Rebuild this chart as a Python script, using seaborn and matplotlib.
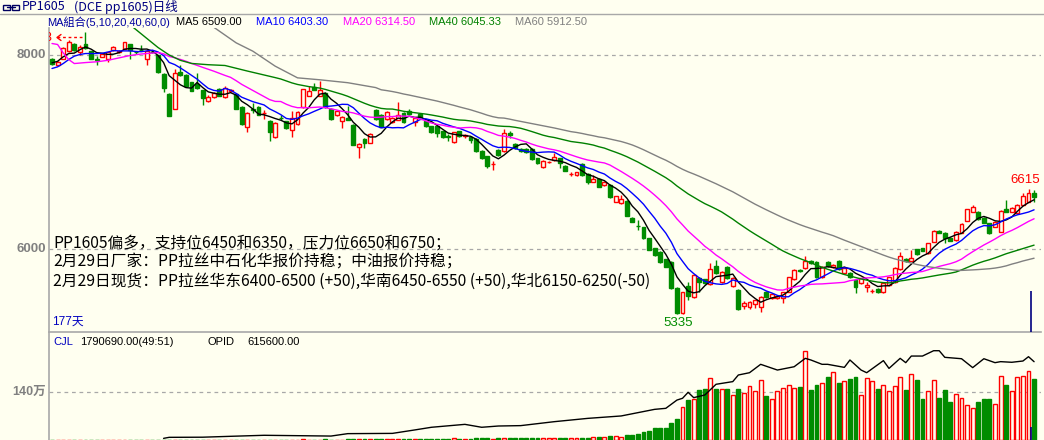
import numpy as np
import pandas as pd
import matplotlib
matplotlib.use("Agg")
import matplotlib.pyplot as plt
from matplotlib.lines import Line2D
from matplotlib.patches import Rectangle
import seaborn as sns

sns.set_theme(style="white")
plt.rcParams['font.family'] = ['Noto Sans CJK SC', 'DejaVu Sans']

# ---------------- data ----------------
opens = [
    7956, 7894, 7956, 8034, 8110, 8028, 8110, 8031, 7955, 7976,
    7956, 8044, 8030, 8059, 8103, 8028, 8050, 7956, 8028, 7990,
    7801, 7598, 7440, 7818, 7794, 7714, 7693, 7632, 7526, 7560,
    7646, 7560, 7620, 7595, 7461, 7251, 7440, 7457, 7395, 7320,
    7152, 7350, 7313, 7220, 7289, 7461, 7577, 7667, 7577, 7605,
    7440, 7374, 7313, 7347, 7278, 7044, 7131, 7090, 7433, 7381,
    7337, 7306, 7330, 7399, 7420, 7302, 7385, 7313, 7261, 7261,
    7210, 7165, 7096, 7210, 7165, 7152, 7134, 7010, 6952, 6870,
    7021, 7003, 7190, 7082, 7028, 7028, 7028, 6935, 6842, 6895,
    6911, 6935, 6856, 6770, 6763, 6873, 6773, 6694, 6718, 6660,
    6660, 6488, 6471, 6495, 6323, 6240, 6224, 6110, 6007, 5972,
    5894, 5870, 5600, 5340, 5620, 5509, 5700, 5688, 5639, 5825,
    5663, 5818, 5619, 5577, 5412, 5405, 5433, 5405, 5560, 5498,
    5492, 5498, 5560, 5688, 5784, 5801, 5880, 5869, 5715, 5869,
    5811, 5876, 5756, 5756, 5681, 5647, 5605, 5568, 5584, 5560,
    5629, 5663, 5791, 5894, 5880, 5997, 6007, 5956, 6076, 6189,
    6168, 6110, 6093, 6168, 6292, 6385, 6385, 6316, 6265, 6230,
    6179, 6409, 6385, 6368, 6454, 6488, 6580]
closes = [
    7907, 7925, 8069, 8127, 8044, 8080, 8069, 7956, 7948, 8007,
    8024, 8080, 8034, 8127, 8044, 8024, 8044, 8041, 8024, 7818,
    7657, 7371, 7811, 7787, 7673, 7629, 7660, 7553, 7564, 7605,
    7577, 7657, 7636, 7440, 7286, 7399, 7433, 7381, 7399, 7199,
    7296, 7347, 7244, 7347, 7409, 7646, 7629, 7639, 7639, 7461,
    7337, 7416, 7358, 7330, 7072, 7079, 7090, 7186, 7337, 7255,
    7409, 7347, 7381, 7302, 7390, 7347, 7358, 7261, 7199, 7193,
    7152, 7155, 7199, 7158, 7168, 7117, 7003, 6935, 6856, 6873,
    6969, 7193, 7175, 7038, 7003, 6997, 6925, 6883, 6907, 6897,
    6945, 6883, 6807, 6773, 6787, 6763, 6694, 6722, 6642, 6694,
    6533, 6540, 6512, 6340, 6281, 6237, 6110, 5990, 5938, 5869,
    5818, 5600, 5340, 5554, 5520, 5732, 5660, 5647, 5791, 5750,
    5766, 5698, 5705, 5382, 5440, 5457, 5474, 5509, 5509, 5536,
    5519, 5554, 5708, 5784, 5770, 5876, 5853, 5715, 5818, 5828,
    5835, 5791, 5801, 5715, 5612, 5698, 5629, 5570, 5560, 5647,
    5708, 5801, 5928, 5880, 5904, 5949, 5983, 6059, 6186, 6168,
    6110, 6086, 6179, 6258, 6409, 6430, 6306, 6271, 6162, 6282,
    6395, 6385, 6419, 6454, 6546, 6580, 6533]
highs = [
    7965, 7935, 8075, 8147, 8115, 8095, 8230, 8040, 7983, 8015,
    8030, 8090, 8050, 8130, 8110, 8040, 8093, 8045, 8040, 8000,
    7810, 7605, 7853, 7897, 7800, 7720, 7811, 7640, 7580, 7615,
    7655, 7680, 7645, 7600, 7470, 7405, 7502, 7470, 7433, 7330,
    7305, 7380, 7320, 7420, 7415, 7650, 7673, 7708, 7725, 7615,
    7450, 7425, 7365, 7467, 7285, 7085, 7140, 7195, 7440, 7390,
    7415, 7355, 7509, 7405, 7440, 7355, 7390, 7320, 7265, 7265,
    7215, 7180, 7205, 7215, 7180, 7160, 7140, 7015, 6955, 6900,
    7030, 7234, 7210, 7090, 7040, 7035, 7035, 6940, 6915, 6910,
    6986, 6940, 6860, 6795, 6795, 6880, 6780, 6763, 6725, 6700,
    6665, 6545, 6560, 6500, 6330, 6299, 6230, 6115, 6015, 5980,
    5900, 5880, 5610, 5560, 5660, 5740, 5710, 5695, 5853, 5887,
    5775, 5825, 5712, 5585, 5470, 5465, 5480, 5515, 5568, 5545,
    5525, 5560, 5715, 5790, 5795, 5928, 5890, 5875, 5825, 5880,
    5845, 5885, 5810, 5765, 5690, 5705, 5660, 5590, 5600, 5650,
    5715, 5810, 5972, 5905, 5990, 6005, 6015, 6065, 6195, 6195,
    6175, 6120, 6185, 6265, 6415, 6454, 6395, 6325, 6270, 6290,
    6400, 6505, 6430, 6460, 6580, 6615, 6608]
lows = [
    7895, 7885, 7950, 8025, 8035, 8000, 8060, 7950, 7887, 7970,
    7921, 8040, 8020, 8055, 7956, 8010, 8035, 7897, 8015, 7810,
    7612, 7365, 7435, 7780, 7665, 7620, 7650, 7484, 7510, 7555,
    7570, 7555, 7615, 7435, 7280, 7200, 7399, 7375, 7337, 7113,
    7140, 7330, 7235, 7152, 7280, 7455, 7570, 7630, 7570, 7455,
    7330, 7370, 7244, 7325, 7065, 6935, 7038, 7085, 7330, 7250,
    7330, 7300, 7325, 7295, 7385, 7260, 7350, 7255, 7190, 7150,
    7145, 7110, 7090, 7150, 7140, 7085, 6995, 6930, 6830, 6814,
    6960, 6995, 7145, 7030, 6995, 6990, 6920, 6875, 6835, 6880,
    6905, 6832, 6800, 6750, 6755, 6755, 6667, 6688, 6635, 6650,
    6525, 6480, 6465, 6335, 6275, 6196, 6100, 5985, 5930, 5860,
    5810, 5590, 5335, 5335, 5480, 5500, 5560, 5640, 5630, 5745,
    5650, 5690, 5610, 5375, 5380, 5380, 5395, 5354, 5500, 5490,
    5485, 5440, 5555, 5680, 5760, 5795, 5845, 5705, 5705, 5820,
    5800, 5785, 5750, 5705, 5543, 5640, 5560, 5545, 5550, 5550,
    5620, 5655, 5785, 5870, 5875, 5940, 5975, 5950, 6070, 6160,
    6060, 6080, 6085, 6160, 6285, 6380, 6300, 6265, 6150, 6225,
    6170, 6380, 6380, 6360, 6448, 6480, 6488]
# volume in 万手
volumes = [
    0.4, 0.3, 0.5, 0.4, 0.6, 0.3, 0.5, 0.4, 0.4, 0.3,
    0.5, 0.4, 0.3, 0.6, 0.5, 0.4, 0.4, 0.5, 0.3, 0.8,
    1.0, 1.2, 1.1, 0.8, 0.9, 0.9, 0.7, 1.0, 0.8, 0.7,
    0.8, 0.9, 0.7, 1.1, 1.3, 1.2, 0.9, 0.8, 0.8, 1.2,
    1.1, 0.9, 1.0, 1.1, 1.2, 1.6, 1.3, 1.2, 1.3, 1.5,
    1.4, 1.2, 1.3, 3.2, 3.8, 3.5, 3.0, 3.3, 3.9, 3.6,
    3.4, 3.2, 3.6, 3.5, 3.3, 3.8, 3.1, 3.6, 3.7, 3.9,
    3.6, 4.2, 4.6, 3.9, 3.7, 4.1, 4.8, 4.6, 5.2, 4.0,
    4.4, 5.5, 4.6, 4.8, 5.0, 4.5, 5.1, 5.3, 4.8, 4.6,
    5.0, 5.4, 5.8, 5.2, 5.5, 6.3, 6.8, 8.7, 8.7, 9.7,
    11.7, 11.7, 8.7, 13.6, 15.6, 17.5, 24.3, 27.2, 35.0, 35.0,
    35.0, 48.6, 61.3, 95.2, 116.7, 118.6, 145.8, 148.8, 179.9, 148.8,
    147.8, 148.8, 130.3, 148.8, 136.1, 156.5, 141.9, 174.0, 128.3, 118.6,
    141.9, 150.7, 159.5, 151.7, 154.6, 259.6, 145.8, 160.4, 166.3, 183.8,
    197.0, 167.3, 171.1, 178.8, 183.8, 131.3, 179.9, 171.1, 148.8, 160.4,
    142.9, 157.5, 183.8, 145.8, 192.5, 175.0, 119.6, 142.9, 175.0, 122.5,
    145.8, 110.8, 134.2, 122.5, 101.1, 93.3, 111.8, 119.6, 119.6, 105.0,
    186.7, 160.4, 142.9, 183.8, 186.7, 201.0, 179.069]
# open interest (bar index, value)
oi_idx = [20, 21, 27, 32, 38, 50, 53, 61, 65, 68, 74, 77, 80, 84, 90, 96, 102,
          108, 110, 112, 113, 114, 115, 117, 119, 122, 123, 125, 127, 130, 133,
          135, 136, 138, 139, 142, 143, 145, 146, 149, 150, 152, 153, 154, 156,
          158, 159, 160, 163, 165, 167, 169, 170, 172, 174, 175, 176]
oi_val = [13000, 21000, 22000, 29000, 37000, 31000, 50000, 52000, 79000, 100000,
          123000, 100000, 110000, 113000, 144000, 170000, 189000, 241000, 249000,
          314000, 328000, 375000, 333000, 354000, 438000, 459000, 511000, 529000,
          595000, 550000, 576000, 642000, 629000, 595000, 595000, 571000, 629000,
          550000, 529000, 624000, 563000, 642000, 608000, 660000, 660000, 702000,
          702000, 650000, 639000, 569000, 639000, 608000, 616000, 611000, 621000,
          655000, 615600]
# moving-average values before the window fills
ma5_head_idx = [0, 1, 2, 3]
ma5_head_val = [7914, 7930, 7976, 8010]
ma10_head_idx = [0, 1, 2, 3, 4, 5, 6, 7, 8]
ma10_head_val = [7856, 7873, 7907, 7948, 7983, 8000, 8010, 8010, 8010]
ma20_head_idx = [0, 1, 2, 3, 4, 6, 8, 10, 12, 14, 16, 18]
ma20_head_val = [8113, 8103, 8017, 7948, 7907, 7917, 7925, 7940, 7965, 7990, 8005, 8015]
ma40_head_idx = [14, 15, 17, 19, 21, 23, 25, 28, 31, 35, 38]
ma40_head_val = [8305, 8258, 8165, 8072, 7995, 7940, 7908, 7895, 7887, 7830, 7790]
ma60_head_idx = [28, 29, 30, 33, 36, 40, 44, 48, 53, 58]
ma60_head_val = [8330, 8280, 8240, 8120, 8034, 7880, 7760, 7740, 7710, 7660]

ma_periods = [5, 10, 20, 40, 60]
ma_colors = ['#000000', '#0000FF', '#FF00FF', '#008000', '#808080']
ma_labels = ['MA5 6509.00', 'MA10 6403.30', 'MA20 6314.50', 'MA40 6045.33', 'MA60 5912.50']
ma_label_x = [176, 256, 343, 429, 515]

notes = ["PP1605偏多，支持位6450和6350，压力位6650和6750；",
         "2月29日厂家：PP拉丝中石化华报价持稳；中油报价持稳；",
         "2月29日现货：PP拉丝华东6400-6500 (+50),华南6450-6550 (+50),华北6150-6250(-50)"]

for arr in (opens, closes, highs, lows, volumes):
    assert len(arr) == 177, len(arr)

# ---------------- layout ----------------
W, H = 1044, 440
BG = '#FFFFF0'
RED = '#FF0000'
GRN = '#008C00'
GRID = '#A8A8A8'

fig = plt.figure(figsize=(W / 100, H / 100), dpi=100)
fig.patch.set_facecolor(BG)

def fr(x0, y0, x1, y1):
    return [x0 / W, 1 - y1 / H, (x1 - x0) / W, (y1 - y0) / H]

n = len(closes)
xs = np.arange(n)
step = 5.58
x_left = (49 - 52) / step
x_right = (1041 - 52) / step

def px2price(py):
    return 8000 - (py - 54.5) * (2000 / 194.5)

ax = fig.add_axes(fr(49, 28, 1041, 332))
axv = fig.add_axes(fr(49, 333, 1041, 440))
for a in (ax, axv):
    a.set_facecolor(BG)
    a.set_xlim(x_left, x_right)
    a.set_xticks([])
    a.set_yticks([])
    for s in a.spines.values():
        s.set_visible(False)
    a.spines['left'].set_visible(True)
    a.spines['left'].set_color(GRID)
    a.spines['left'].set_linewidth(1.2)
ax.spines['bottom'].set_visible(True)
ax.spines['bottom'].set_color(GRID)
ax.spines['bottom'].set_linewidth(1.2)

ax.set_ylim(px2price(332), px2price(28))
vol_per_px = 140 / 48.0
axv.set_ylim(0, 107 * vol_per_px)

# grid lines
ax.axhline(8000, color=GRID, lw=0.9, ls=(0, (3, 3)), zorder=1)
ax.axhline(6000, color=GRID, lw=0.9, ls=(0, (3, 3)), zorder=1)
axv.axhline(140, color=GRID, lw=0.9, ls=(0, (3, 3)), zorder=1)

# ---------------- candles ----------------
df = pd.DataFrame({'i': xs, 'o': opens, 'h': highs, 'l': lows, 'c': closes, 'v': volumes})
up = df['c'] >= df['o']
cols = np.where(up, RED, GRN)
ax.vlines(df['i'], df['l'], df['h'], colors=cols, lw=1.0, zorder=3)
bw = 0.70
bottoms = np.minimum(df['o'], df['c'])
heights = np.maximum(np.abs(df['c'] - df['o']), 0.5)
face = np.where(up, BG, GRN)
ax.bar(df['i'], heights, bottom=bottoms, width=bw, color=face, edgecolor=cols,
       linewidth=1.0, zorder=4)

# ---------------- moving averages ----------------
cs = pd.Series(closes, dtype=float)
heads = {5: (ma5_head_idx, ma5_head_val), 10: (ma10_head_idx, ma10_head_val),
         20: (ma20_head_idx, ma20_head_val), 40: (ma40_head_idx, ma40_head_val),
         60: (ma60_head_idx, ma60_head_val)}
for p, colr in zip(ma_periods, ma_colors):
    comp = cs.rolling(p).mean()
    hi, hv = heads[p]
    mdf = pd.DataFrame({'i': list(hi) + list(range(p - 1, n)),
                        'v': list(hv) + list(comp.iloc[p - 1:])})
    sns.lineplot(data=mdf, x='i', y='v', ax=ax, color=colr, lw=1.0,
                 estimator=None, sort=True, zorder=5, legend=False)
ax.set_xlabel('')
ax.set_ylabel('')
ax.set_xlim(x_left, x_right)
ax.set_ylim(px2price(332), px2price(28))

# extreme labels: window low and recent high
imin = int(np.argmin(lows))
recent = 60
imax = n - recent + int(np.argmax(highs[-recent:]))
ax.text(imin + 0.3, px2price(323), f"{lows[imin]}", color=GRN, fontsize=9.5,
        family=['Liberation Sans'], ha='center', va='center', zorder=6)
ax.text(imax - 0.6, px2price(180), f"{highs[imax]}", color=RED, fontsize=9.5,
        family=['Liberation Sans'], ha='center', va='center', zorder=6)

# cursor line
ax.vlines(175.5, px2price(332), px2price(291), color='#000080', lw=1.2, zorder=6)
axv.vlines(175.5, 0, 13 * vol_per_px, color='#000080', lw=1.2, zorder=6)

# ---------------- volume ----------------
vface = np.where(up, BG, GRN)
axv.bar(df['i'], df['v'], width=0.70, color=vface, edgecolor=cols, linewidth=1.0, zorder=3)
axo = axv.twinx()
axo.set_ylim(0, 107 * 7862)
axo.set_xlim(x_left, x_right)
for s in axo.spines.values():
    s.set_visible(False)
axo.set_yticks([])
odf = pd.DataFrame({'i': oi_idx, 'oi': oi_val})
sns.lineplot(data=odf, x='i', y='oi', ax=axo, color='black', lw=1.0,
             estimator=None, legend=False)
axo.set_xlabel('')
axo.set_ylabel('')
axo.set_xlim(x_left, x_right)
axv.set_xlim(x_left, x_right)

# ---------------- texts ----------------
def ftext(x, y, s, **kw):
    kw.setdefault('va', 'center')
    fig.text(x / W, 1 - y / H, s, **kw)

LS = ['Liberation Sans', 'Noto Sans CJK SC']
# title bar
fig.add_artist(Line2D([0, 1], [1 - 14.5 / H, 1 - 14.5 / H], color=GRID, lw=1.0))
fig.add_artist(Rectangle((3 / W, 1 - 10 / H), 7 / W, 5 / H, fill=False, ec='#000060', lw=1.0))
fig.add_artist(Rectangle((12 / W, 1 - 10 / H), 7 / W, 5 / H, fill=False, ec='#000060', lw=1.0))
fig.add_artist(Line2D([7 / W, 15 / W], [1 - 7.5 / H, 1 - 7.5 / H], color='#000060', lw=1.0))
ftext(22, 6.5, "PP1605", color='#000080', fontsize=9, family=['Noto Sans CJK SC'])
ftext(74, 6.5, "(DCE pp1605)日线", color='#000080', fontsize=9, family=['Noto Sans CJK SC'])

# MA legend
ftext(47, 22, "MA組合(5,10,20,40,60,0)", color='#0000A0', fontsize=8, family=LS)
for lab, xx, colr in zip(ma_labels, ma_label_x, ma_colors):
    ftext(xx, 22, lab, color=colr, fontsize=8, family=LS)

# price ticks
ftext(46, 54.5, "8000", color='#808080', fontsize=9.5, fontweight='bold',
      family=['Liberation Sans'], ha='right')
ftext(46, 249, "6000", color='#808080', fontsize=9.5, fontweight='bold',
      family=['Liberation Sans'], ha='right')
ftext(46, 392, "140万", color='#808080', fontsize=9, fontweight='bold',
      family=LS, ha='right')

# off-screen high marker top-left (label of the window high, pushed left)
ax.text(x_left - 0.25, px2price(37.5), "8", color=RED, fontsize=9,
        family=['Liberation Sans'], ha='center', va='center', clip_on=True, zorder=6)
fig.add_artist(Line2D([57 / W, 83 / W], [1 - 37.5 / H, 1 - 37.5 / H], color=RED,
                      lw=1.0, ls=(0, (2, 2))))
fig.add_artist(Line2D([61 / W, 57 / W, 61 / W], [1 - 34.5 / H, 1 - 37.5 / H,
                      1 - 40.5 / H], color=RED, lw=1.0))

# notes
for k, s in enumerate(notes):
    ftext(53, 243 + 19 * k, s, color='black', fontsize=11.3, family=['Noto Sans CJK SC'])

ftext(52, 322, "177天", color='#0000C0', fontsize=8.5, family=LS)

# volume legend
ftext(53, 342, "CJL", color='#0000C0', fontsize=8, family=LS)
ftext(80, 342, "1790690.00(49:51)", color='black', fontsize=8, family=LS)
ftext(207, 342, "OPID", color='black', fontsize=8, family=LS)
ftext(247, 342, "615600.00", color='black', fontsize=8, family=LS)

fig.savefig('out.png', dpi=100, facecolor=BG)
